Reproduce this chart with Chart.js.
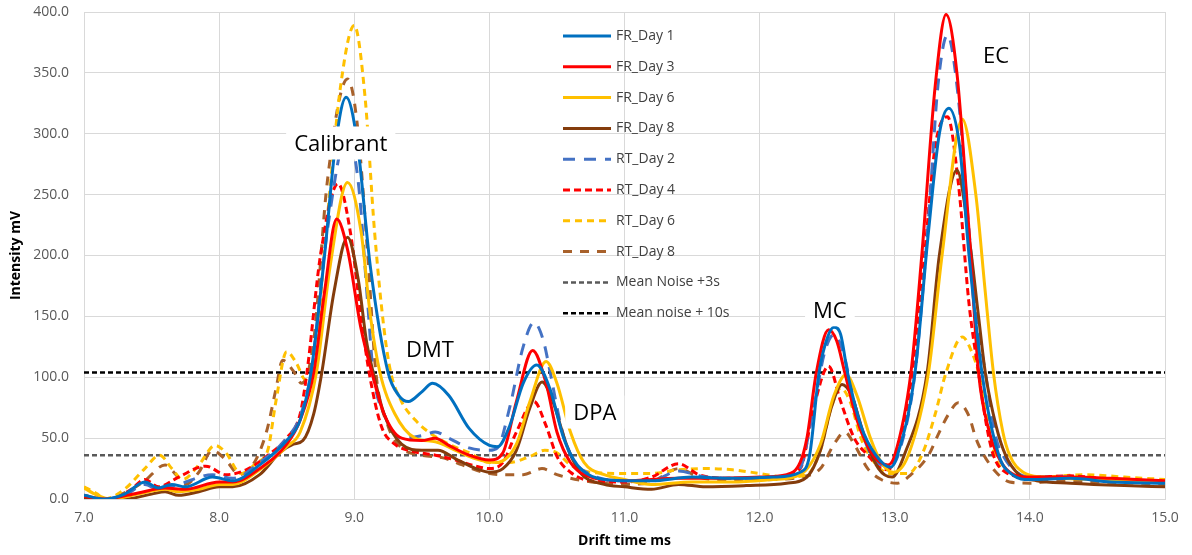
<!DOCTYPE html>
<html>
<head>
<meta charset="utf-8">
<style>
  html, body { margin: 0; padding: 0; background: #fff; }
  #wrap { width: 1192px; height: 555px; }
</style>
</head>
<body>
<div id="wrap"><canvas id="ims" width="1192" height="555"></canvas></div>
<script src="https://cdn.jsdelivr.net/npm/chart.js"></script>
<script>
// [drift time ms, intensity mV]
const frDay1 = [[7.0,3],[7.15,0],[7.3,4],[7.45,14],[7.55,9],[7.65,12],[7.75,10],[7.95,18],[8.1,15],[8.3,28],[8.5,48],[8.6,65],[8.68,104],[8.78,200],[8.86,290],[8.94,330],[9.02,295],[9.12,190],[9.25,104],[9.33,85],[9.4,80],[9.5,88],[9.58,95],[9.7,85],[9.85,58],[10.0,44],[10.06,43],[10.15,60],[10.25,95],[10.35,110],[10.45,90],[10.55,50],[10.65,28],[10.8,17],[11.0,15],[11.2,15],[11.5,18],[11.8,17],[12.1,18],[12.3,22],[12.37,36],[12.44,104],[12.5,132],[12.55,141],[12.6,135],[12.65,104],[12.75,60],[12.86,36],[12.97,26],[13.02,36],[13.15,104],[13.25,220],[13.33,300],[13.4,321],[13.48,290],[13.55,200],[13.65,100],[13.77,36],[13.87,20],[14.0,16],[14.3,17],[14.6,14],[15.0,13]];
const frDay3 = [[7.0,2],[7.15,0],[7.4,5],[7.6,9],[7.75,8],[8.0,14],[8.1,14],[8.3,25],[8.5,45],[8.6,65],[8.7,104],[8.78,170],[8.87,230],[8.95,205],[9.05,140],[9.13,104],[9.22,70],[9.35,50],[9.5,48],[9.6,50],[9.7,44],[9.85,36],[10.0,32],[10.1,38],[10.2,80],[10.32,122],[10.42,95],[10.5,55],[10.6,30],[10.75,18],[11.0,15],[11.4,17],[11.7,17],[12.0,18],[12.2,20],[12.3,30],[12.35,50],[12.42,104],[12.51,139],[12.57,130],[12.63,104],[12.72,65],[12.84,36],[12.95,28],[13.0,36],[13.12,104],[13.2,200],[13.3,340],[13.38,398],[13.46,350],[13.55,220],[13.62,104],[13.7,55],[13.76,36],[13.85,22],[14.0,18],[14.3,18],[14.6,17],[15.0,15]];
const frDay6 = [[7.0,9],[7.1,3],[7.2,0],[7.4,4],[7.6,8],[7.7,6],[7.85,8],[8.0,12],[8.1,12],[8.3,24],[8.5,43],[8.6,55],[8.72,104],[8.82,190],[8.95,260],[9.05,220],[9.12,150],[9.19,104],[9.3,70],[9.45,50],[9.6,47],[9.75,40],[9.9,33],[10.05,30],[10.2,45],[10.3,80],[10.42,113],[10.5,95],[10.6,55],[10.7,30],[10.85,20],[11.0,16],[11.2,12],[11.5,14],[11.8,14],[12.1,16],[12.3,20],[12.45,45],[12.55,85],[12.64,102],[12.72,85],[12.82,50],[12.9,30],[12.99,22],[13.1,36],[13.25,104],[13.35,200],[13.5,312],[13.6,250],[13.67,170],[13.73,104],[13.8,55],[13.85,36],[13.95,22],[14.1,18],[14.5,16],[15.0,14]];
const frDay8 = [[7.0,0],[7.3,0],[7.5,4],[7.6,6],[7.7,3],[7.85,6],[8.0,10],[8.1,10],[8.3,20],[8.45,38],[8.55,45],[8.62,48],[8.7,70],[8.76,104],[8.85,170],[8.95,215],[9.03,180],[9.09,130],[9.14,104],[9.22,70],[9.35,45],[9.5,40],[9.62,40],[9.75,33],[9.9,25],[10.0,22],[10.1,25],[10.2,40],[10.3,75],[10.39,96],[10.47,80],[10.57,45],[10.67,22],[10.85,12],[11.0,10],[11.2,8],[11.4,12],[11.6,10],[11.9,11],[12.2,13],[12.35,18],[12.45,40],[12.53,75],[12.61,94],[12.68,85],[12.78,50],[12.88,25],[12.98,18],[13.07,36],[13.24,104],[13.33,200],[13.46,270],[13.55,215],[13.62,150],[13.67,104],[13.75,60],[13.82,36],[13.92,20],[14.05,15],[14.3,13],[14.7,11],[15.0,10]];
const rtDay2 = [[7.0,2],[7.15,0],[7.3,3],[7.45,12],[7.55,8],[7.7,12],[7.95,20],[8.1,17],[8.3,30],[8.5,50],[8.6,68],[8.68,104],[8.8,220],[8.95,300],[9.03,260],[9.1,160],[9.14,104],[9.22,70],[9.35,50],[9.5,52],[9.6,55],[9.7,50],[9.85,42],[10.0,40],[10.06,42],[10.15,75],[10.25,125],[10.33,145],[10.4,130],[10.45,104],[10.53,60],[10.6,36],[10.75,20],[11.0,15],[11.2,15],[11.4,23],[11.6,18],[11.9,17],[12.2,18],[12.3,25],[12.4,75],[12.48,120],[12.55,135],[12.62,120],[12.7,80],[12.8,42],[12.9,28],[12.97,27],[13.05,45],[13.15,104],[13.25,230],[13.32,340],[13.39,381],[13.47,330],[13.55,220],[13.62,140],[13.67,104],[13.75,50],[13.8,36],[13.9,22],[14.0,18],[14.3,18],[14.6,16],[15.0,14]];
const rtDay4 = [[7.0,0],[7.2,0],[7.35,8],[7.45,16],[7.55,10],[7.7,18],[7.9,27],[8.05,20],[8.2,24],[8.35,35],[8.5,50],[8.6,70],[8.65,104],[8.75,200],[8.88,259],[8.97,220],[9.05,150],[9.11,104],[9.2,60],[9.3,45],[9.4,40],[9.6,36],[9.75,32],[9.9,27],[10.0,25],[10.1,30],[10.2,55],[10.33,80],[10.42,60],[10.5,35],[10.6,22],[10.75,15],[11.0,14],[11.2,18],[11.4,29],[11.55,20],[11.8,17],[12.1,18],[12.3,25],[12.4,75],[12.51,109],[12.6,80],[12.7,50],[12.8,36],[12.9,25],[12.95,24],[13.02,40],[13.13,104],[13.22,200],[13.3,290],[13.39,314],[13.47,260],[13.55,160],[13.62,104],[13.68,60],[13.73,36],[13.82,22],[14.0,18],[14.3,19],[14.6,16],[15.0,15]];
const rtDay6 = [[7.0,10],[7.1,4],[7.15,0],[7.3,8],[7.45,25],[7.56,36],[7.65,25],[7.73,16],[7.85,28],[7.97,44],[8.05,38],[8.16,21],[8.28,30],[8.36,40],[8.42,80],[8.5,121],[8.57,112],[8.64,98],[8.7,110],[8.8,230],[8.9,340],[9.0,389],[9.08,330],[9.15,220],[9.22,140],[9.27,104],[9.35,80],[9.45,65],[9.55,55],[9.7,45],[9.85,38],[10.0,30],[10.15,30],[10.3,35],[10.41,40],[10.5,38],[10.6,28],[10.75,22],[11.0,21],[11.2,21],[11.4,24],[11.6,25],[11.8,24],[12.0,21],[12.2,18],[12.35,20],[12.45,40],[12.53,75],[12.6,91],[12.67,80],[12.75,50],[12.85,30],[12.96,21],[13.1,21],[13.2,36],[13.3,70],[13.38,104],[13.5,133],[13.58,118],[13.62,104],[13.68,70],[13.74,36],[13.85,22],[14.1,18],[14.4,20],[14.7,18],[15.0,16]];
const rtDay8 = [[7.0,3],[7.15,0],[7.3,5],[7.45,15],[7.6,28],[7.68,20],[7.75,12],[7.85,22],[7.95,40],[8.05,32],[8.15,20],[8.25,28],[8.35,55],[8.42,90],[8.47,114],[8.55,105],[8.61,95],[8.7,130],[8.8,260],[8.95,345],[9.02,310],[9.1,200],[9.16,104],[9.25,60],[9.35,42],[9.5,36],[9.65,34],[9.8,28],[9.95,22],[10.1,20],[10.25,20],[10.39,25],[10.5,20],[10.7,15],[11.0,12],[11.2,14],[11.4,25],[11.55,18],[11.8,15],[12.1,16],[12.3,18],[12.45,25],[12.55,45],[12.63,55],[12.7,45],[12.8,25],[12.9,16],[13.02,13],[13.12,20],[13.25,36],[13.33,55],[13.4,70],[13.47,79],[13.55,68],[13.6,50],[13.66,36],[13.75,22],[13.85,14],[14.0,13],[14.2,15],[14.5,14],[14.8,13],[15.0,12]];
const noise3s = 36;
const noise10s = 104;
const xRange = [7, 15];

const peakNames = ['Calibrant', 'DMT', 'DPA', 'MC', 'EC'];
const peakNameX = [8.9, 9.56, 10.78, 12.52, 13.75];
const peakNameY = [292, 123, 71, 155, 364];

const toPts = arr => arr.map(([x, y]) => ({ x, y }));

function line(label, pts, color, dash, width) {
	return {
		label: label,
		data: toPts(pts),
		borderColor: color,
		backgroundColor: color,
		borderDash: dash || [],
		borderWidth: width || 3,
		pointRadius: 0,
		fill: false,
		cubicInterpolationMode: 'monotone'
	};
}

// legend sits inside the plot, like the original
const insideLegend = {
	id: 'insideLegend',
	afterDraw(chart) {
		const ctx = chart.ctx;
		ctx.save();
		ctx.font = '14px "Open Sans"';
		ctx.textBaseline = 'middle';
		ctx.lineCap = 'butt';
		chart.data.datasets.forEach((ds, i) => {
			const y = 36 + i * 30.8;
			ctx.strokeStyle = ds.borderColor;
			ctx.lineWidth = ds.borderWidth;
			ctx.setLineDash(ds.borderDash);
			ctx.beginPath();
			ctx.moveTo(563, y);
			ctx.lineTo(611, y);
			ctx.stroke();
			ctx.setLineDash([]);
			ctx.fillStyle = '#404040';
			ctx.fillText(ds.label, 616, y);
		});
		ctx.restore();
	}
};

const peakLabels = {
	id: 'peakLabels',
	afterDatasetsDraw(chart) {
		const { ctx, scales } = chart;
		ctx.save();
		ctx.font = '22px "Open Sans"';
		ctx.textAlign = 'center';
		ctx.textBaseline = 'middle';
		peakNames.forEach((name, i) => {
			const px = scales.x.getPixelForValue(peakNameX[i]);
			const py = scales.y.getPixelForValue(peakNameY[i]);
			const w = ctx.measureText(name).width + 16;
			ctx.fillStyle = '#fff';
			ctx.fillRect(px - w / 2, py - 17, w, 33);
			ctx.fillStyle = '#000';
			ctx.fillText(name, px, py + 1);
		});
		ctx.restore();
	}
};

const tickFont = { family: 'Open Sans', size: 14 };
const titleFont = { family: 'Open Sans', size: 14, weight: 'bold' };

new Chart(document.getElementById('ims'), {
	type: 'line',
	data: {
		datasets: [
			line('FR_Day 1', frDay1, '#0070C0'),
			line('FR_Day 3', frDay3, '#FF0000'),
			line('FR_Day 6', frDay6, '#FFC000'),
			line('FR_Day 8', frDay8, '#843C0C'),
			line('RT_Day 2', rtDay2, '#4472C4', [12, 9]),
			line('RT_Day 4', rtDay4, '#FF0000', [7, 4]),
			line('RT_Day 6', rtDay6, '#FFC000', [7, 5]),
			line('RT_Day 8', rtDay8, '#A8612B', [9, 8]),
			line('Mean Noise +3s', xRange.map(x => [x, noise3s]), '#595959', [5, 3], 2.5),
			line('Mean noise + 10s', xRange.map(x => [x, noise10s]), '#000000', [5, 3], 2.5)
		]
	},
	options: {
		responsive: false,
		animation: false,
		layout: { padding: { top: 12, right: 27, left: 0, bottom: 0 } },
		plugins: {
			legend: { display: false },
			tooltip: { enabled: false }
		},
		scales: {
			x: {
				type: 'linear',
				min: 7,
				max: 15,
				afterFit: s => { s.height = 56; s.paddingLeft = 0; s.paddingRight = 0; },
				ticks: { stepSize: 1, padding: 11, color: '#595959', font: tickFont, callback: v => v.toFixed(1) },
				grid: { color: '#d9d9d9', drawTicks: false },
				border: { color: '#d9d9d9' },
				title: { display: true, text: 'Drift time ms', color: '#000', font: titleFont, padding: { top: 2, bottom: 6 } }
			},
			y: {
				min: 0,
				max: 400,
				afterFit: s => { s.width = 84; s.paddingTop = 0; s.paddingBottom = 0; },
				ticks: { stepSize: 50, padding: 15, color: '#595959', font: tickFont, callback: v => v.toFixed(1) },
				grid: { color: '#d9d9d9', drawTicks: false },
				border: { color: '#d9d9d9' },
				title: { display: true, text: 'Intensity mV', color: '#000', font: titleFont, padding: { top: 8, bottom: 0 } }
			}
		}
	},
	plugins: [peakLabels, insideLegend]
});
</script>
</body>
</html>
